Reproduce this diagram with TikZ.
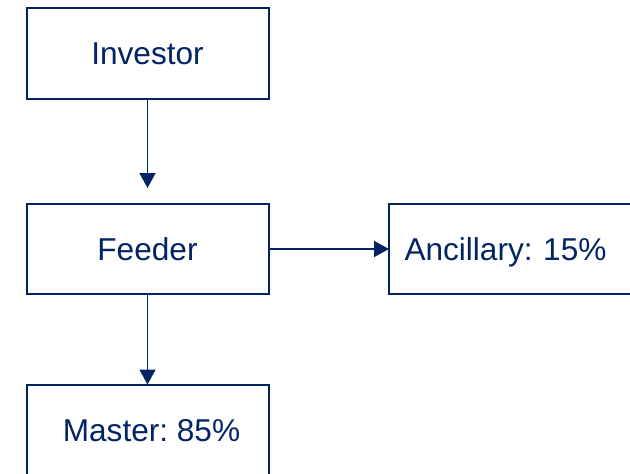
\documentclass[tikz,border=0pt]{standalone}
\usepackage{fontspec}
\setmainfont{Liberation Sans}
\usetikzlibrary{arrows.meta}
\definecolor{navy}{RGB}{0,36,100}
\frenchspacing
\begin{document}
\begin{tikzpicture}[x=1pt,y=-1pt,
  box/.style={draw=navy,line width=2pt,minimum width=242pt,
    text=navy,font=\fontsize{31.6}{36}\selectfont,
    text height=22.5pt,text depth=0pt,inner sep=0pt,outer sep=0pt},
  link/.style={draw=navy,line width=1.8pt,
    -{Triangle[width=16pt,length=15pt]}}]
  \useasboundingbox (0,0) rectangle (630,474);
  \clip (0,0) rectangle (630,474);
  % boxes
  \node[box,minimum height=91pt] (inv) at (147.5,53) {Investor};
  \node[box,minimum height=90pt] (feed) at (147.5,249) {Feeder};
  \node[box,minimum height=90pt,text width=211pt,align=left,
        inner xsep=15.5pt] (anc) at (510,249) {Ancillary: 15\%};
  \node[box,minimum height=91pt] (mast) at (147.5,430)
        {\hspace*{8pt}Master: 85\%};
  % connectors
  \coordinate (invtip) at (147.5,188);
  \draw[link] (inv.south) -- (invtip);
  \draw[link] (feed.east) -- (anc.west);
  \draw[link] (feed.south) -- (feed.south |- mast.north);
\end{tikzpicture}
\end{document}
